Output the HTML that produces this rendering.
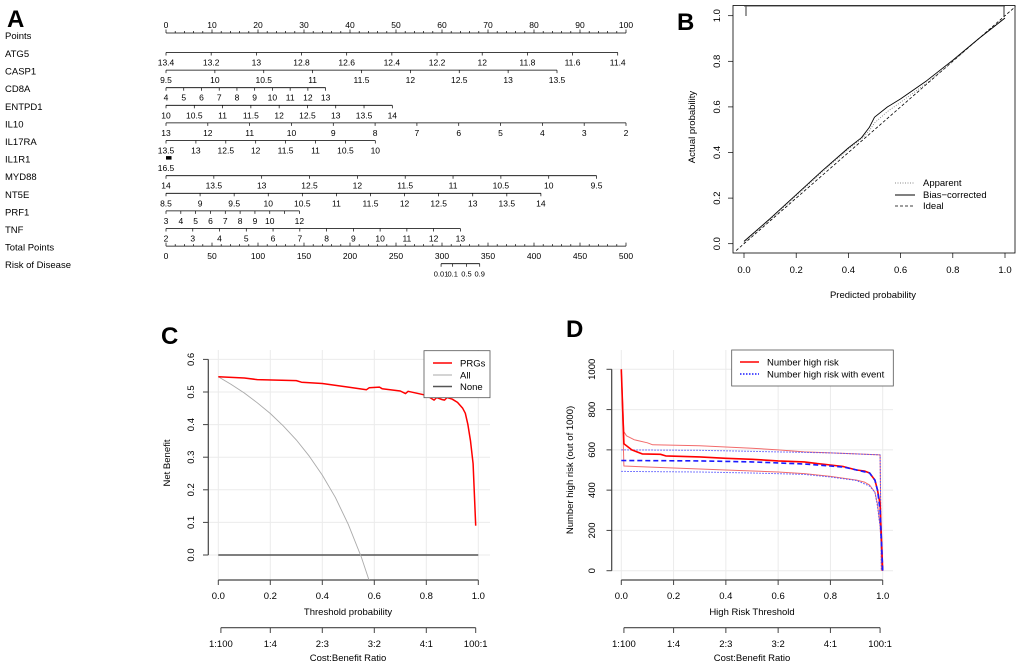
<!DOCTYPE html>
<html><head><meta charset="utf-8"><style>
html,body{margin:0;padding:0;background:#fff;}
svg{display:block;font-family:"Liberation Sans",Arial,sans-serif;}
</style></head><body>
<svg id="fig" width="1020" height="666" viewBox="0 0 1020 666" xmlns="http://www.w3.org/2000/svg"></svg>
<script>
// ---------- DATA ----------
const nomoVars = ["ATG5","CASP1","CD8A","ENTPD1","IL10","IL17RA","IL1R1","MYD88","NT5E","PRF1","TNF"];
const nomoLo = [13.4, 9.5, 4, 10, 13, 13.5, 16.5, 14, 8.5, 3, 2];
const nomoHi = [11.4, 13.5, 13, 14, 2, 10, 16.5, 9.5, 14, 12, 13];
const nomoMaxPts = [98.2, 85, 34.7, 49.2, 100, 45.5, 1.2, 93.6, 81.5, 29, 64];
const nomoTicks = [
  ["13.4","13.2","13","12.8","12.6","12.4","12.2","12","11.8","11.6","11.4"],
  ["9.5","10","10.5","11","11.5","12","12.5","13","13.5"],
  ["4","5","6","7","8","9","10","11","12","13"],
  ["10","10.5","11","11.5","12","12.5","13","13.5","14"],
  ["13","12","11","10","9","8","7","6","5","4","3","2"],
  ["13.5","13","12.5","12","11.5","11","10.5","10"],
  ["16.5"],
  ["14","13.5","13","12.5","12","11.5","11","10.5","10","9.5"],
  ["8.5","9","9.5","10","10.5","11","11.5","12","12.5","13","13.5","14"],
  ["3","4","5","6","7","8","9","10","11","12"],
  ["2","3","4","5","6","7","8","9","10","11","12","13"]
];
const riskLabels = ["0.01","0.1","0.5","0.9"];
const riskTotalPts = [299, 311.6, 326.6, 341];

const calPred = [0,0.1,0.2,0.3,0.4,0.45,0.48,0.5,0.55,0.6,0.7,0.8,0.9,1.0];
const calBias = [0.01,0.11,0.215,0.32,0.42,0.465,0.51,0.555,0.6,0.635,0.715,0.805,0.9,0.99];
const calApparent = [0.005,0.105,0.21,0.315,0.415,0.46,0.495,0.53,0.58,0.62,0.705,0.8,0.9,0.99];
const calTicks = [0,0.2,0.4,0.6,0.8,1.0];

const dcaT = [0,0.1,0.15,0.3,0.32,0.4,0.5,0.57,0.58,0.62,0.63,0.7,0.72,0.73,0.8,0.83,0.84,0.86,0.87,0.88,0.9,0.92,0.94,0.95,0.96,0.97,0.98,0.99];
const dcaPRG = [0.547,0.543,0.538,0.535,0.53,0.526,0.515,0.507,0.513,0.515,0.51,0.503,0.495,0.502,0.49,0.475,0.483,0.477,0.475,0.483,0.478,0.468,0.45,0.435,0.4,0.35,0.28,0.09];
const allT = [0,0.05,0.1,0.15,0.2,0.25,0.3,0.35,0.4,0.45,0.5,0.55,0.58];
const allNB = [0.547,0.523,0.497,0.467,0.434,0.396,0.353,0.303,0.245,0.177,0.094,-0.006,-0.078];
const cYTicks = [0,0.1,0.2,0.3,0.4,0.5,0.6];
const xTicks = [0,0.2,0.4,0.6,0.8,1.0];
const cbLabels = ["1:100","1:4","2:3","3:2","4:1","100:1"];
const cbT = [0.01,0.2,0.4,0.6,0.8,0.99];

const hrT = [0,0.01,0.02,0.04,0.05,0.08,0.15,0.17,0.3,0.4,0.5,0.6,0.7,0.75,0.8,0.85,0.9,0.93,0.95,0.97,0.98,0.99,1.0];
const hrVal = [1000,630,620,600,595,580,578,570,565,558,553,545,540,532,525,517,500,495,485,450,400,330,0];
const hrUpT = [0,0.01,0.02,0.05,0.1,0.12,0.3,0.5,0.6,0.7,0.8,0.9,0.99,0.995];
const hrUp = [1000,690,670,650,635,625,620,608,600,590,585,580,575,0];
const hrLoT = [0,0.01,0.2,0.4,0.6,0.7,0.8,0.9,0.93,0.95,0.97,0.98,0.99,1.0];
const hrLo = [1000,520,510,500,490,482,468,450,440,425,390,330,220,0];
const evT = [0,0.3,0.5,0.7,0.8,0.85,0.9,0.95,0.97,0.98,0.99,1.0];
const evVal = [547,545,540,530,520,515,500,485,450,400,300,0];
const evUpT = [0,0.3,0.6,0.8,0.99,0.995];
const evUp = [600,598,590,585,575,0];
const evLoT = [0,0.3,0.5,0.7,0.8,0.9,0.95,0.97,0.98,0.99,1.0];
const evLo = [493,490,485,478,465,448,420,390,320,220,0];
const dYTicks = [0,200,400,600,800,1000];

// ---------- HELPERS ----------
const NS = "http://www.w3.org/2000/svg";
const svg = document.getElementById("fig");
function mk(tag, attrs, name, parent) {
  const el = document.createElementNS(NS, tag);
  for (const k in attrs) el.setAttribute(k, attrs[k]);
  
  
  (parent || svg).appendChild(el);
  return el;
}
function line(x1,y1,x2,y2,stroke,w,name,dash,p){
  const a={x1:x1,y1:y1,x2:x2,y2:y2,stroke:stroke,"stroke-width":w};
  if(dash) a["stroke-dasharray"]=dash;
  return mk("line",a,name,p);
}
function txt(x,y,s,size,anchor,name,rot,weight){
  const a={x:x,y:y,"font-size":size,"text-anchor":anchor||"start",fill:"#000"};
  if(rot) a.transform="rotate(-90 "+x+" "+y+")";
  if(weight) a["font-weight"]=weight;
  const t=mk("text",a,name);
  t.textContent=s;
  return t;
}
function poly(xs,ys,fx,fy,stroke,w,name,dash,p){
  const pts=xs.map((x,i)=>fx(x).toFixed(1)+","+fy(ys[i]).toFixed(1)).join(" ");
  const a={points:pts,fill:"none",stroke:stroke,"stroke-width":w,"stroke-linejoin":"round"};
  if(dash) a["stroke-dasharray"]=dash;
  return mk("polyline",a,name,p);
}

// ---------- PANEL A ----------
const ax = p => 166 + p*4.6;
txt(7,27,"A",24,"start","panel-a-label",false,"bold");
txt(5,39,"Points",9.5,"start","points-label");
line(ax(0),33,ax(100),33,"#000",0.8,"points-axis-line");
for(let p=0;p<=100;p+=2){
  const major = p%10===0;
  line(ax(p),33,ax(p),major?29.5:31,"#000",0.7,"points-tick");
  if(major) txt(ax(p),28,String(p),8.5,"middle","points-tick-label");
}
nomoVars.forEach((v,i)=>{
  const y = 52.5 + 17.6*i;
  txt(5,y+4.5,v,9.5,"start","variable-label-"+v.toLowerCase());
  if(v==="IL1R1"){
    mk("rect",{x:ax(0),y:y-2,width:ax(nomoMaxPts[i])-ax(0),height:3.5,fill:"#000"},"il1r1-bar");
    txt(ax(0),y+13,nomoTicks[i][0],8.5,"middle","il1r1-tick-label");
    return;
  }
  line(ax(0),y,ax(nomoMaxPts[i]),y,"#000",0.8,"axis-line-"+v.toLowerCase());
  nomoTicks[i].forEach(s=>{
    const val=parseFloat(s);
    const p=(val-nomoLo[i])/(nomoHi[i]-nomoLo[i])*nomoMaxPts[i];
    line(ax(p),y,ax(p),y+3,"#000",0.7,"axis-tick-"+v.toLowerCase());
    if(!(v==="PRF1" && s==="11")) txt(ax(p),y+13,s,8.5,"middle","tick-label-"+v.toLowerCase());
  });
});
const tpY = 52.5+17.6*11;
txt(5,tpY+4.5,"Total Points",9.5,"start","total-points-label");
const tx = tp => 166 + tp/500*460;
line(tx(0),tpY,tx(500),tpY,"#000",0.8,"total-points-axis-line");
for(let tp=0;tp<=500;tp+=10){
  const major=tp%50===0;
  line(tx(tp),tpY,tx(tp),tpY-(major?3.5:2),"#000",0.7,"total-points-tick");
  if(major) txt(tx(tp),tpY+13,String(tp),8.5,"middle","total-points-tick-label");
}
const rY = 52.5+17.6*12;
txt(5,rY+4.5,"Risk of Disease",9.5,"start","risk-label");
line(tx(riskTotalPts[0]),rY,tx(riskTotalPts[riskTotalPts.length-1]),rY,"#000",0.8,"risk-axis-line");
riskLabels.forEach((s,i)=>{
  line(tx(riskTotalPts[i]),rY,tx(riskTotalPts[i]),rY+3,"#000",0.7,"risk-tick");
  txt(tx(riskTotalPts[i]),rY+13,s,7.5,"middle","risk-tick-label");
});

// ---------- PANEL B ----------
const bx = v => 744 + v*261, by = v => 243.7 - v*228;
txt(677,30,"B",24,"start","panel-b-label",false,"bold");
mk("rect",{x:733,y:5.5,width:282,height:247.5,fill:"none",stroke:"#000","stroke-width":0.8},"calibration-plot-box");
calTicks.forEach(v=>{
  line(bx(v),253,bx(v),258,"#000",0.7,"x-tick");
  txt(bx(v),273,v.toFixed(1),9.5,"middle","x-tick-label");
  line(728,by(v),733,by(v),"#000",0.7,"y-tick");
  txt(720,by(v),v.toFixed(1),9.5,"middle","y-tick-label",true);
});
txt(873,298,"Predicted probability",9.5,"middle","x-axis-title");
txt(695,127,"Actual probability",9.5,"middle","y-axis-title",true);
line(bx(-0.03),by(-0.03),bx(1.04),by(1.04),"#000",0.8,"ideal-line","3,2");
poly(calPred,calApparent,bx,by,"#888",0.9,"apparent-line","1,1.5");
poly(calPred,calBias,bx,by,"#000",0.9,"bias-corrected-line");
line(746,6,746,16,"#000",0.8,"rug-low");
line(1004,6,1004,16,"#000",0.8,"rug-high");
line(bx(0),6.5,bx(1),6.5,"#555",0.6,"rug-top");
line(895,183,915,183,"#888",0.9,"legend-apparent-line","1,1.5");
txt(923,186,"Apparent",9.5,"start","legend-apparent-text");
line(895,195,915,195,"#000",0.9,"legend-bias-line");
txt(923,198,"Bias\u2212corrected",9.5,"start","legend-bias-text");
line(895,206,915,206,"#000",0.8,"legend-ideal-line","3,2");
txt(923,209,"Ideal",9.5,"start","legend-ideal-text");

function costBenefit(fx,prefix){
  line(fx(cbT[0]),627.7,fx(cbT[cbT.length-1]),627.7,"#444",1.2,prefix+"-cost-benefit-axis");
  cbT.forEach((t,i)=>{
    line(fx(t),627.7,fx(t),633,"#444",1,prefix+"-cost-benefit-tick");
    txt(fx(t),647,cbLabels[i],9.5,"middle",prefix+"-cost-benefit-label");
  });
}

// ---------- PANEL C ----------
const cx = t => 218.3 + t*260, cy = v => 555 - v*326;
txt(161,344,"C",24,"start","panel-c-label",false,"bold");
xTicks.forEach(t=>line(cx(t),350,cx(t),580,"#ebebeb",1,"c-grid-v"));
cYTicks.forEach(v=>line(208,cy(v),490,cy(v),"#ebebeb",1,"c-grid-h"));
line(208.3,cy(0),208.3,cy(0.6),"#444",1.2,"c-y-axis");
cYTicks.forEach(v=>{
  line(203,cy(v),208.3,cy(v),"#444",1,"c-y-tick");
  txt(194,cy(v),v.toFixed(1),9.5,"middle","c-y-tick-label",true);
});
line(cx(0),580,cx(1),580,"#444",1.2,"c-x-axis");
xTicks.forEach(t=>{
  line(cx(t),580,cx(t),585,"#444",1,"c-x-tick");
  txt(cx(t),599,t.toFixed(1),9.5,"middle","c-x-tick-label");
});
txt(348,615,"Threshold probability",9.5,"middle","c-x-axis-title");
txt(170,463,"Net Benefit",9.5,"middle","c-y-axis-title",true);
costBenefit(cx,"c");
txt(348,661,"Cost:Benefit Ratio",9.5,"middle","c-cost-benefit-title");
const cClip = mk("clipPath",{id:"cclip"},"c-clip");
mk("rect",{x:200,y:340,width:300,height:240},"c-clip-rect",cClip);
const gC = mk("g",{"clip-path":"url(#cclip)"},"c-series");
line(cx(0),cy(0),cx(1),cy(0),"#555",1.4,"none-line",null,gC);
poly(allT,allNB,cx,cy,"#aaa",0.9,"all-line",null,gC);
poly(dcaT,dcaPRG,cx,cy,"#ff0000",1.5,"prgs-line",null,gC);
mk("rect",{x:424,y:350.7,width:66,height:47,fill:"#fff",stroke:"#555","stroke-width":0.8},"c-legend-box");
line(433,363,452,363,"#ff0000",1.5,"legend-prgs-line");
txt(460,366.5,"PRGs",9.5,"start","legend-prgs-text");
line(433,375,452,375,"#aaa",1,"legend-all-line");
txt(460,378.5,"All",9.5,"start","legend-all-text");
line(433,386.5,452,386.5,"#555",1.4,"legend-none-line");
txt(460,390,"None",9.5,"start","legend-none-text");

// ---------- PANEL D ----------
const dx = t => 621.3 + t*261.4, dy = v => 570.7 - v*0.2014;
txt(566,337,"D",24,"start","panel-d-label",false,"bold");
xTicks.forEach(t=>line(dx(t),350,dx(t),580,"#ebebeb",1,"d-grid-v"));
dYTicks.forEach(v=>line(611,dy(v),893,dy(v),"#ebebeb",1,"d-grid-h"));
line(611.7,dy(0),611.7,dy(1000),"#444",1.2,"d-y-axis");
dYTicks.forEach(v=>{
  line(606.5,dy(v),611.7,dy(v),"#444",1,"d-y-tick");
  txt(595,dy(v),String(v),9.5,"middle","d-y-tick-label",true);
});
line(dx(0),580,dx(1),580,"#444",1.2,"d-x-axis");
xTicks.forEach(t=>{
  line(dx(t),580,dx(t),585,"#444",1,"d-x-tick");
  txt(dx(t),599,t.toFixed(1),9.5,"middle","d-x-tick-label");
});
txt(752,615,"High Risk Threshold",9.5,"middle","d-x-axis-title");
txt(573,470,"Number high risk (out of 1000)",9.5,"middle","d-y-axis-title",true);
costBenefit(dx,"d");
txt(752,661,"Cost:Benefit Ratio",9.5,"middle","d-cost-benefit-title");
poly(hrUpT,hrUp,dx,dy,"#f26b6b",1,"high-risk-upper-ci");
poly(hrLoT,hrLo,dx,dy,"#f26b6b",1,"high-risk-lower-ci");
poly(evUpT,evUp,dx,dy,"#5050ff",1,"event-upper-ci","1.5,1.5");
poly(evLoT,evLo,dx,dy,"#5050ff",1,"event-lower-ci","1.5,1.5");
poly(hrT,hrVal,dx,dy,"#ff0000",1.6,"number-high-risk-line");
poly(evT,evVal,dx,dy,"#1a1aff",1.6,"number-high-risk-event-line","5,3");
mk("rect",{x:731.7,y:350,width:161.6,height:36,fill:"#fff",stroke:"#555","stroke-width":0.8},"d-legend-box");
line(740,362,759,362,"#ff0000",1.5,"legend-high-risk-line");
txt(767,365.5,"Number high risk",9.5,"start","legend-high-risk-text");
line(740,374,759,374,"#1a1aff",1.5,"legend-event-line","1.5,1.5");
txt(767,377.5,"Number high risk with event",9.5,"start","legend-event-text");
</script>
</body></html>
